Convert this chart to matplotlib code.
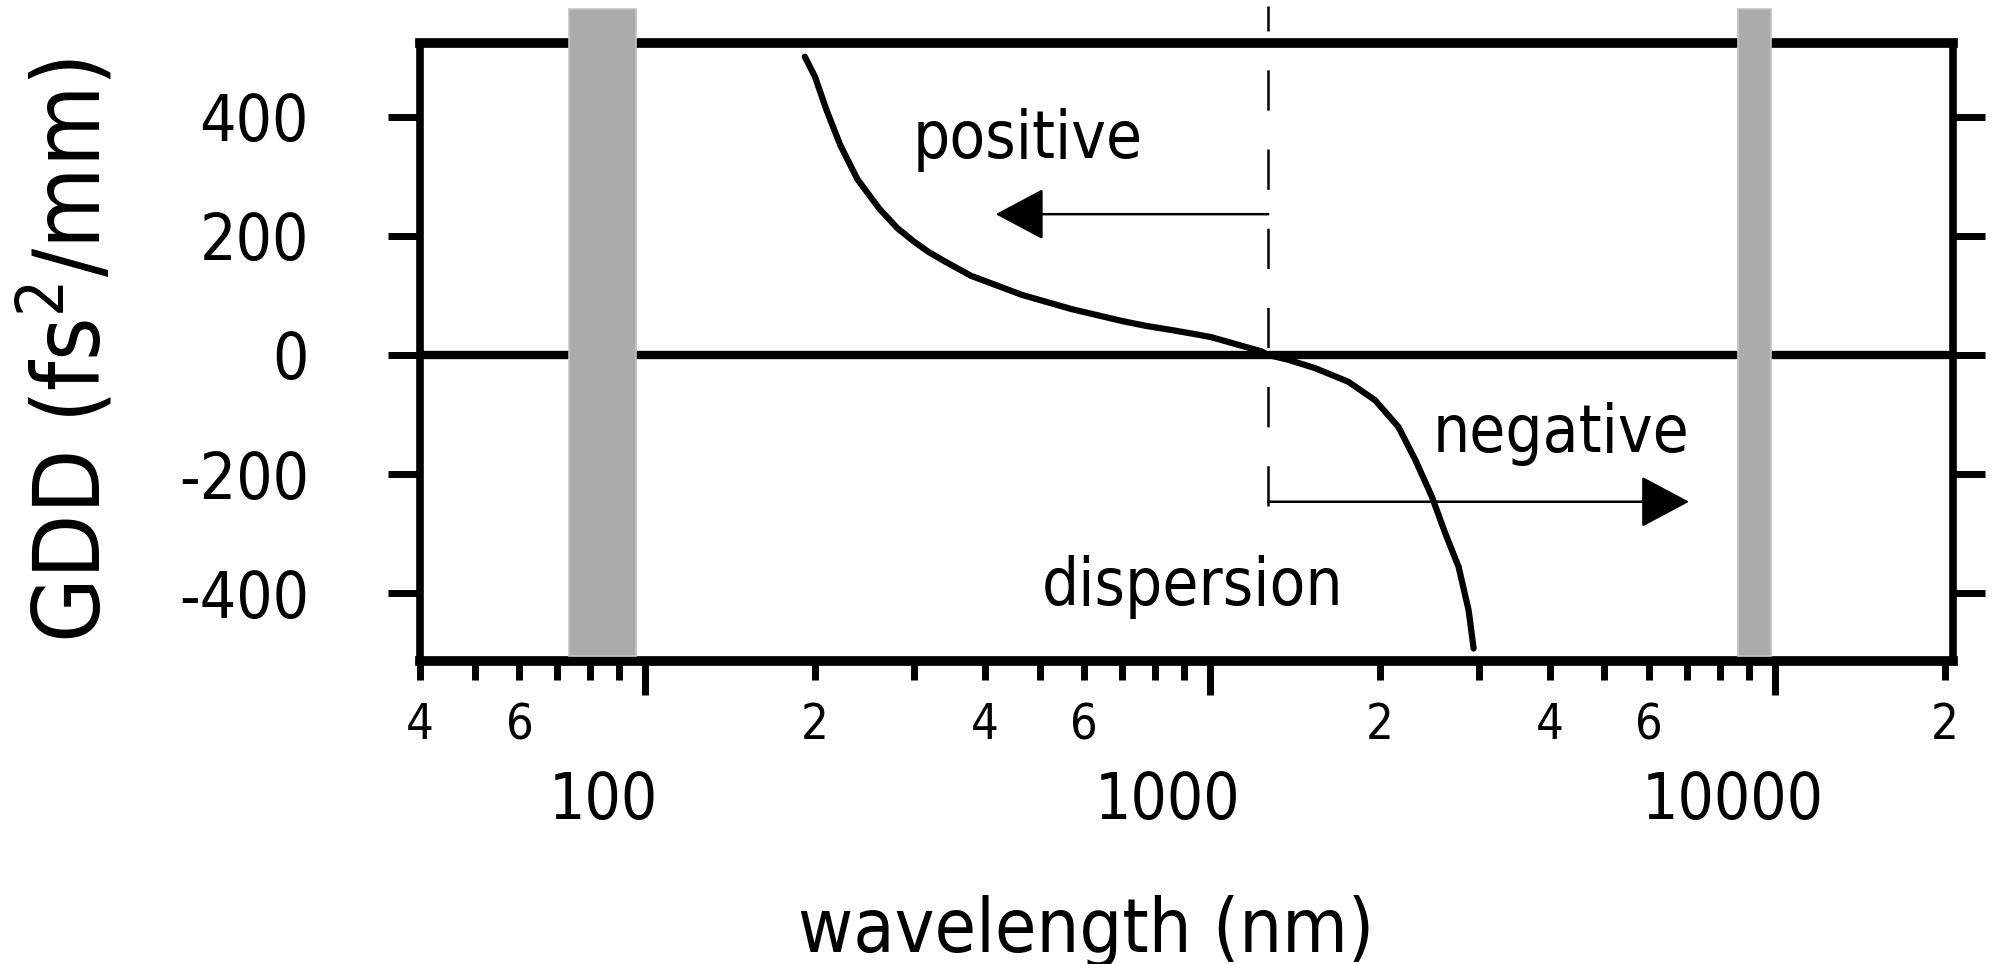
import matplotlib
matplotlib.use("Agg")
import matplotlib.pyplot as plt
from matplotlib.ticker import FixedLocator, NullFormatter

plt.rcParams['font.family'] = ['DejaVu Sans']
plt.rcParams['font.stretch'] = 'condensed'
plt.rcParams['mathtext.default'] = 'regular'
plt.rcParams['lines.scale_dashes'] = False

# Group delay dispersion of the glass versus wavelength
wavelength_nm = [192, 200, 210, 222, 238, 260, 280, 300, 318, 340, 378,
                 465, 570, 700, 770, 855, 955, 1006, 1235, 1270,
                 1377, 1536, 1760, 1963, 2159, 2312, 2474, 2614, 2759, 2874, 2933]
gdd_fs2_per_mm = [501, 468, 410, 352, 295, 246, 213, 190, 173, 157, 133,
                  101, 77, 57, 49, 42, 34, 30, 6, 0,
                  -8, -22, -45, -76, -121, -176, -238, -300, -356, -429, -493]

zero_dispersion_nm = 1270
absorption_bands_nm = [(73.5, 96.3), (8600, 9870)]

x_limits = (40, 20700)
y_limits = (-514, 524)
y_ticks = [-400, -200, 0, 200, 400]
x_major_ticks = [100, 1000, 10000]
x_major_labels = ['100', '1000', '10000']
x_minor_ticks = [40, 50, 60, 70, 80, 90, 200, 300, 400, 500, 600, 700, 800, 900,
                 2000, 3000, 4000, 5000, 6000, 7000, 8000, 9000, 20000]
x_minor_labels = {40: '4', 60: '6', 200: '2', 400: '4', 600: '6',
                  2000: '2', 4000: '4', 6000: '6', 20000: '2'}

W, H = 1995, 964
fig = plt.figure(figsize=(W / 100, H / 100), dpi=100)
ax = fig.add_axes([420 / W, 1 - 661 / H, (1953 - 420) / W, (661 - 43) / H])

ax.set_xscale('log')
ax.set_xlim(*x_limits)
ax.set_ylim(*y_limits)

# frame
for side in ('top', 'bottom'):
    ax.spines[side].set_linewidth(7.0)
for side in ('left', 'right'):
    ax.spines[side].set_linewidth(5.5)

# zero line
ax.axhline(0, color='black', lw=6.0, zorder=2)

# shaded absorption regions, reaching above the frame
for lo, hi in absorption_bands_nm:
    ax.axvspan(lo, hi, ymin=0.008, ymax=1.055, facecolor='#ababab',
               edgecolor='#c4c4c4', lw=1.2, clip_on=False, zorder=3)

# zero-dispersion wavelength marker
yfrac_bottom = (-253 - y_limits[0]) / (y_limits[1] - y_limits[0])
ax.axvline(zero_dispersion_nm, ymin=yfrac_bottom, ymax=1.06, color='black',
           lw=1.8, linestyle=(0, (29, 28)), clip_on=False, zorder=3)

# dispersion curve
ax.plot(wavelength_nm, gdd_fs2_per_mm, color='black', lw=4.5,
        solid_joinstyle='round', solid_capstyle='round', zorder=4)

# direction arrows
arrow_style = '-|>,head_length=31,head_width=16.5'
ax.annotate('', xy=(418, 236.5), xytext=(zero_dispersion_nm, 236.5),
            arrowprops=dict(arrowstyle=arrow_style, color='black', lw=1.8,
                            shrinkA=0, shrinkB=0, mutation_scale=1), zorder=4)
ax.annotate('', xy=(7060, -246.5), xytext=(zero_dispersion_nm, -246.5),
            arrowprops=dict(arrowstyle=arrow_style, color='black', lw=1.8,
                            shrinkA=0, shrinkB=0, mutation_scale=1), zorder=4)

ax.text(476, 331, 'positive', ha='center', va='baseline', size=47, zorder=5)
ax.text(4180, -162.5, 'negative', ha='center', va='baseline', size=47, zorder=5)
ax.text(933, -420, 'dispersion', ha='center', va='baseline', size=47, zorder=5)

# y axis ticks on both sides
ax.set_yticks(y_ticks)
ax.set_yticklabels([str(v) for v in y_ticks])
ax.tick_params(axis='y', which='major', direction='out', length=23, width=5,
               pad=57, labelsize=46, left=True, right=True)

# x axis: short labelled minor ticks, long major ticks with a second label row
ax.xaxis.set_major_locator(FixedLocator(x_major_ticks))
ax.xaxis.set_major_formatter(NullFormatter())
ax.xaxis.set_minor_locator(FixedLocator(x_minor_ticks))
ax.set_xticklabels([x_minor_labels.get(v, '') for v in x_minor_ticks], minor=True)
ax.tick_params(axis='x', which='major', direction='out', length=24.5, width=5,
               top=False)
ax.tick_params(axis='x', which='minor', direction='out', length=14, width=5,
               pad=15, labelsize=35, top=False)

for v, lab in zip(x_major_ticks, x_major_labels):
    ax.annotate(lab, xy=(v, 0), xycoords=('data', 'axes fraction'),
                xytext=(-30, -78.5), textcoords='offset points',
                ha='center', va='top', size=46, annotation_clip=False)

fig.text(1086 / W, 1 - 931 / H, 'wavelength (nm)', ha='center', va='center',
         size=54)
fig.text(70 / W, 1 - 350 / H, r'GDD (fs$^2$/mm)', ha='center', va='center',
         rotation=90, size=67)

fig.savefig('out.png', dpi=100)
